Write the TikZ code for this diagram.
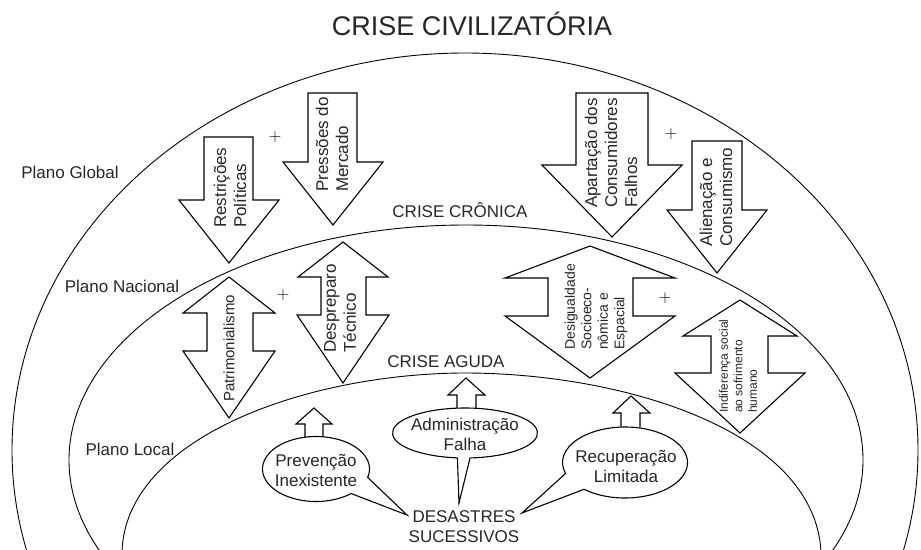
\documentclass[tikz,border=0pt]{standalone}
\usepackage{fontspec}
\setmainfont{Liberation Sans}
\usepackage{tikz}

\tikzset{
  lbl/.style={inner sep=0pt, text=black!85, font=\fontsize{17}{20}\selectfont},
  vlbl/.style={lbl, rotate=90, anchor=west, align=left},
  blk/.style={draw, line width=1.1pt, line join=miter, fill=white},
  plano/.style={line width=0.9pt},
  mais/.style={inner sep=0pt, font=\fontsize{17}{20}\selectfont},
}

\begin{document}
\begin{tikzpicture}[x=1pt, y=-1pt]
\useasboundingbox (0,0) rectangle (921,549);
% planos global, nacional, local
\begin{scope}
\clip (0,0) rectangle (921,549);
\draw[plano] (465,450) ellipse [x radius=453pt, y radius=397pt];
\draw[plano] (466,460) ellipse [x radius=397pt, y radius=235pt];
\draw[plano] (122,552) .. controls (125,440) and (300,375) .. (460,373) .. controls (620,372) and (815,430) .. (821,552);
\end{scope}

\node[lbl, font=\fontsize{27}{30}\selectfont, anchor=base] (civ) at (472,35) {CRISE CIVILIZATÓRIA};
\node[lbl, anchor=base] (global) at (70,178) {Plano Global};
\node[lbl, anchor=base] (nacional) at (122,292) {Plano Nacional};
\node[lbl, anchor=base] (local) at (130,455) {Plano Local};
\node[lbl, anchor=base] (cronica) at (460,217) {CRISE CRÔNICA};
\node[lbl, anchor=base] (aguda) at (446,367) {CRISE AGUDA};

% plano global
\draw[blk] (204,137) -- (253,137) -- (253,200) -- (279,200) -- (229,263) -- (179,200) -- (204,200) -- cycle;
\node[vlbl] (restr) at (230,228) {Restrições\\Políticas};
\draw[blk] (308,93) -- (357,93) -- (357,162) -- (383,162) -- (333,225) -- (283,162) -- (308,162) -- cycle;
\node[vlbl] (merc) at (332,192) {Pressões do\\Mercado};
\node[mais] (plus1) at (275,137) {$+$};
\draw[blk] (576,93) -- (648,93) -- (648,165) -- (682,165) -- (612,237) -- (542,165) -- (576,165) -- cycle;
\node[vlbl] (apart) at (611,208) {Apartação dos\\Consumidores\\Falhos};
\draw[blk] (692,141) -- (742,141) -- (742,210) -- (767,210) -- (717,273) -- (667,210) -- (692,210) -- cycle;
\node[vlbl] (alien) at (716,247) {Alienação e\\Consumismo};
\node[mais] (plus2) at (671,134) {$+$};

% plano nacional
\draw[blk] (229,277) -- (275,313) -- (253,313) -- (253,351) -- (275,351) -- (229,418) -- (183,351) -- (207,351) -- (207,313) -- (183,313) -- cycle;
\node[vlbl, font=\fontsize{15}{18}\selectfont] (patr) at (229,402) {Patrimonialismo};
\draw[blk] (343,242) -- (388,277) -- (366,277) -- (366,315) -- (389,315) -- (343,383) -- (297,315) -- (321,315) -- (321,277) -- (298,277) -- cycle;
\node[vlbl] (despr) at (340,353) {Despreparo\\Técnico};
\node[mais] (plus3) at (283,295) {$+$};
\draw[blk] (590,246) -- (675,278) -- (633,278) -- (633,316) -- (675,316) -- (590,378) -- (505,316) -- (548,316) -- (548,278) -- (505,278) -- cycle;
\node[vlbl, font=\fontsize{14}{16.5}\selectfont] (desig) at (596,350) {Desigualdade\\Socioeco-\\nômica e\\Espacial};
\node[mais] (plus4) at (665,298) {$+$};
\draw[blk] (740,300) -- (797,336) -- (768,336) -- (768,373) -- (805,373) -- (740,433) -- (675,373) -- (711,373) -- (711,336) -- (683,336) -- cycle;
\node[vlbl, font=\fontsize{12}{14.5}\selectfont] (indif) at (738,413) {Indiferença social\\ao sofrimento\\humano};

% plano local
\draw[blk] (305,437) -- (305,424) -- (296,424) -- (314,408) -- (332,424) -- (323,424) -- (323,437);
\draw[blk] (457,408) -- (457,395) -- (448,395) -- (466,378) -- (485,395) -- (476,395) -- (476,408);
\draw[blk] (621,427) -- (621,413) -- (613,413) -- (631,396) -- (650,413) -- (640,413) -- (640,427);

\coordinate (tp1) at (407,515);
\coordinate (tp2) at (459,503);
\coordinate (tp3) at (522,513);
\draw[blk] (tp1) -- ([shift={(-15:53.5pt and 32.5pt)}]316,469) arc [start angle=-15, end angle=311, x radius=53.5pt, y radius=32.5pt] -- cycle;
\node[lbl, align=center] (prev) at (316,470) {Prevenção\\Inexistente};
\draw[blk] (tp2) -- ([shift={(274:72.5pt and 25pt)}]465,433) arc [start angle=274, end angle=624, x radius=72.5pt, y radius=25pt] -- cycle;
\node[lbl, align=center] (admin) at (465,434) {Administração\\Falha};
\draw[blk] (tp3) -- ([shift={(229:62.5pt and 35.5pt)}]625,462.5) arc [start angle=229, end angle=558, x radius=62.5pt, y radius=35.5pt] -- cycle;
\node[lbl, align=center] (recup) at (626,466) {Recuperação\\Limitada};

\node[lbl, align=center] (desastres) at (464,527) {DESASTRES\\SUCESSIVOS};
\end{tikzpicture}
\end{document}
